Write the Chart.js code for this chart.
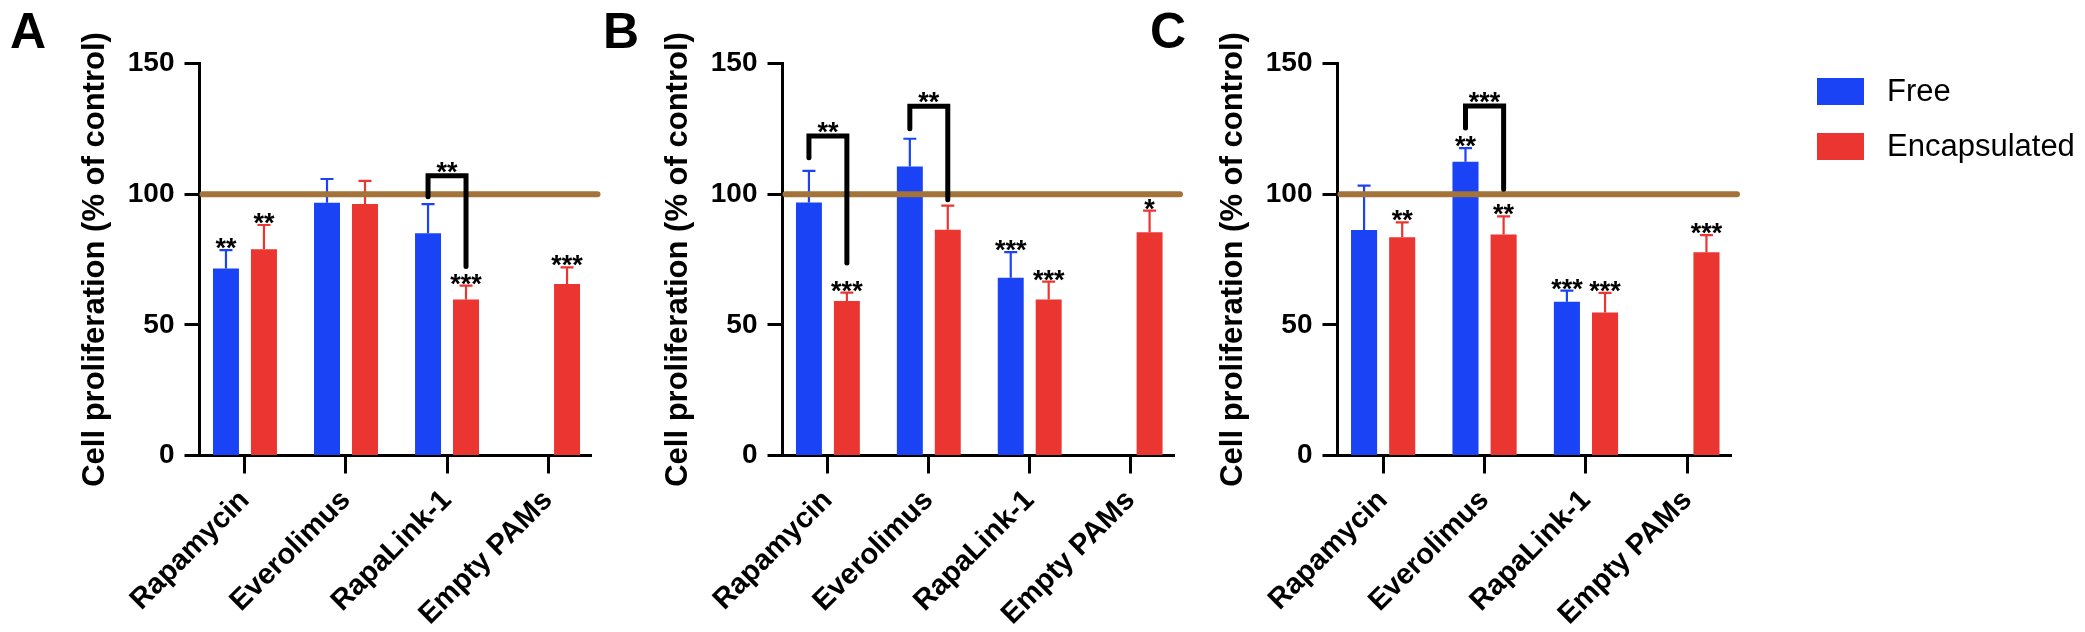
<!DOCTYPE html>
<html><head><meta charset="utf-8">
<script src="https://cdn.jsdelivr.net/npm/chart.js@4.4.1/dist/chart.umd.min.js"></script>
<style>
html,body{margin:0;padding:0;background:#fff;}
#wrap{position:relative;width:2085px;height:632px;overflow:hidden;background:#fff;}
canvas{position:absolute;left:0;top:0;}
</style></head><body>
<div id="wrap">
<canvas id="cA" width="2085" height="632"></canvas>
<canvas id="cB" width="2085" height="632"></canvas>
<canvas id="cC" width="2085" height="632"></canvas>
</div>
<script>
// ---------- data ----------
const categories = ['Rapamycin', 'Everolimus', 'RapaLink-1', 'Empty PAMs'];
const seriesNames = ['Free', 'Encapsulated'];
const yTicks = [0, 50, 100, 150];
const yTitle = 'Cell proliferation (% of control)';
const controlLevel = 100;

// Panel A
const freeA = [71.6, 96.7, 85.0, null];
const freeErrA = [7.0, 9.1, 11.2, null];
const encA = [78.9, 96.2, 59.7, 65.6];
const encErrA = [9.3, 8.9, 5.3, 6.4];
const freeStarsA = ['**', '', '', ''];
const encStarsA = ['**', '', '***', '***'];
const bracketsA = [{cat: 2, top: 107, left: 99, right: 72.3, label: '**'}];

// Panel B
const freeB = [96.8, 110.6, 68.0, null];
const freeErrB = [12.1, 10.6, 9.8, null];
const encB = [59.1, 86.4, 59.7, 85.4];
const encErrB = [3.2, 9.2, 6.8, 8.3];
const freeStarsB = ['', '', '***', ''];
const encStarsB = ['***', '', '***', '*'];
const bracketsB = [
  {cat: 0, top: 122.3, left: 113.9, right: 73.7, label: '**'},
  {cat: 1, top: 133.6, left: 125.0, right: 97.9, label: '**'}
];

// Panel C
const freeC = [86.3, 112.4, 58.8, null];
const freeErrC = [17.0, 5.2, 4.3, null];
const encC = [83.5, 84.6, 54.7, 77.8];
const encErrC = [5.7, 6.9, 7.5, 6.5];
const freeStarsC = ['', '**', '***', ''];
const encStarsC = ['**', '**', '***', '***'];
const bracketsC = [{cat: 1, top: 133.7, left: 125.3, right: 101.9, label: '***'}];

// ---------- styles / layout ----------
const FONT = "'Liberation Sans', Arial, Helvetica, sans-serif";
const COLORS = ['#1943F5', '#EA3530'];
const BROWN = '#A3733A';
const W = 2085, H = 632;
const PLOT_TOP = 63.5, AXIS_BOTTOM_H = 176.5, YAXIS_W = 130;

const panels = [
  {canvas: 'cA', letter: 'A', letterX: 10, axisX: 199.5, axisEnd: 591.5,
   free: freeA, freeErr: freeErrA, enc: encA, encErr: encErrA,
   freeStars: freeStarsA, encStars: encStarsA, brackets: bracketsA, legend: false},
  {canvas: 'cB', letter: 'B', letterX: 603, axisX: 782.5, axisEnd: 1174,
   free: freeB, freeErr: freeErrB, enc: encB, encErr: encErrB,
   freeStars: freeStarsB, encStars: encStarsB, brackets: bracketsB, legend: false},
  {canvas: 'cC', letter: 'C', letterX: 1150, axisX: 1337.5, axisEnd: 1731,
   free: freeC, freeErr: freeErrC, enc: encC, encErr: encErrC,
   freeStars: freeStarsC, encStars: encStarsC, brackets: bracketsC, legend: true}
];

function annotPlugin(p) {
  return {
    id: 'annot' + p.letter,
    afterDatasetsDraw(chart) {
      const ctx = chart.ctx, ys = chart.scales.y, ca = chart.chartArea;
      const metas = [chart.getDatasetMeta(0), chart.getDatasetMeta(1)];
      const vals = [p.free, p.enc], errs = [p.freeErr, p.encErr], stars = [p.freeStars, p.encStars];
      ctx.save();
      // error bars (upper)
      metas.forEach((m, d) => {
        m.data.forEach((bar, i) => {
          const v = vals[d][i], e = errs[d][i];
          if (v == null || e == null) return;
          const y0 = ys.getPixelForValue(v), y1 = ys.getPixelForValue(v + e);
          ctx.strokeStyle = COLORS[d];
          ctx.lineWidth = 2.2;
          ctx.lineCap = 'butt';
          ctx.beginPath();
          ctx.moveTo(bar.x, y0); ctx.lineTo(bar.x, y1);
          ctx.moveTo(bar.x - 6.5, y1); ctx.lineTo(bar.x + 6.5, y1);
          ctx.stroke();
        });
      });
      // control line
      const yc = ys.getPixelForValue(controlLevel);
      ctx.strokeStyle = BROWN; ctx.lineWidth = 6; ctx.lineCap = 'round';
      ctx.beginPath(); ctx.moveTo(ca.left + 3, yc); ctx.lineTo(ca.right + 6, yc); ctx.stroke();
      // brackets
      ctx.font = 'bold 27px ' + FONT;
      ctx.textAlign = 'center';
      ctx.textBaseline = 'alphabetic';
      ctx.fillStyle = '#000';
      p.brackets.forEach(b => {
        const xl = metas[0].data[b.cat].x, xr = metas[1].data[b.cat].x;
        const yt = ys.getPixelForValue(b.top);
        const yl = ys.getPixelForValue(b.left), yr = ys.getPixelForValue(b.right);
        ctx.strokeStyle = '#000'; ctx.lineWidth = 5; ctx.lineCap = 'round'; ctx.lineJoin = 'miter';
        ctx.beginPath();
        ctx.moveTo(xl, yl); ctx.lineTo(xl, yt); ctx.lineTo(xr, yt); ctx.lineTo(xr, yr);
        ctx.stroke();
        ctx.fillText(b.label, (xl + xr) / 2, yt + 5);
      });
      // significance stars above error bars
      metas.forEach((m, d) => {
        m.data.forEach((bar, i) => {
          const s = stars[d][i], v = vals[d][i];
          if (!s || v == null) return;
          const top = ys.getPixelForValue(v + (errs[d][i] || 0));
          ctx.fillText(s, bar.x, top + 7);
        });
      });
      ctx.restore();
    },
    afterDraw(chart) {
      const ctx = chart.ctx;
      ctx.save();
      ctx.fillStyle = '#000';
      ctx.font = 'bold 50px ' + FONT;
      ctx.textAlign = 'left';
      ctx.textBaseline = 'alphabetic';
      ctx.fillText(p.letter, p.letterX, 48);
      if (p.legend) {
        ctx.font = '31px ' + FONT;
        ctx.textBaseline = 'middle';
        chart.data.datasets.forEach((ds, d) => {
          const y = 78 + d * 55;
          ctx.fillStyle = ds.backgroundColor;
          ctx.fillRect(1817, y, 47, 27);
          ctx.fillStyle = '#000';
          ctx.fillText(ds.label, 1887, y + 14);
        });
      }
      ctx.restore();
    }
  };
}

function makeChart(p) {
  const el = document.getElementById(p.canvas);
  return new Chart(el, {
    type: 'bar',
    data: {
      datasets: [
        {label: seriesNames[0], data: categories.map((c, i) => ({x: i, y: p.free[i]})),
         backgroundColor: COLORS[0], borderWidth: 0, categoryPercentage: 0.752, barPercentage: 0.684},
        {label: seriesNames[1], data: categories.map((c, i) => ({x: i, y: p.enc[i]})),
         backgroundColor: COLORS[1], borderWidth: 0, categoryPercentage: 0.752, barPercentage: 0.684}
      ]
    },
    options: {
      responsive: false, animation: false, devicePixelRatio: 1,
      events: [],
      layout: {padding: {left: p.axisX - YAXIS_W, right: W - p.axisEnd, top: PLOT_TOP, bottom: 0}},
      plugins: {legend: {display: false}, tooltip: {enabled: false}, title: {display: false}},
      scales: {
        x: {
          type: 'linear', min: -0.45, max: 3.43, offset: false,
          grid: {display: true, drawOnChartArea: false, drawTicks: true, tickLength: 18, tickWidth: 3, color: '#000', offset: false},
          border: {display: true, width: 3, color: '#000'},
          ticks: {stepSize: 1, includeBounds: false, autoSkip: false, maxRotation: 45, minRotation: 45,
                  padding: 10, color: '#000', font: {family: FONT, size: 29, weight: 'bold'},
                  callback: (v) => Number.isInteger(v) ? (categories[v] || '') : ''},
          afterFit: (s) => { s.height = AXIS_BOTTOM_H; }
        },
        y: {
          min: 0, max: 150,
          grid: {display: true, drawOnChartArea: false, drawTicks: true, tickLength: 15, tickWidth: 3, color: '#000'},
          border: {display: true, width: 3, color: '#000'},
          ticks: {padding: 10, color: '#000', font: {family: FONT, size: 28, weight: 'bold'}},
          title: {display: true, text: yTitle, color: '#000', font: {family: FONT, size: 31, weight: 'bold'}, padding: {top: 7, bottom: 0}},
          afterBuildTicks: (s) => { s.ticks = yTicks.map(v => ({value: v})); },
          afterFit: (s) => { s.width = YAXIS_W; }
        }
      }
    },
    plugins: [annotPlugin(p)]
  });
}

panels.forEach(makeChart);
</script>
</body></html>
